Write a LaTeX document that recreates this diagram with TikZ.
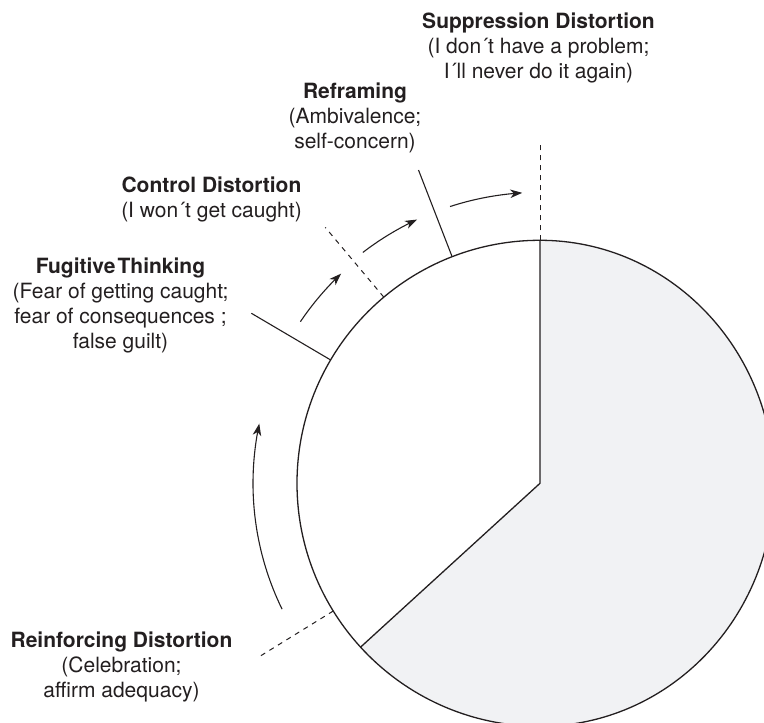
\documentclass[tikz,border=0pt]{standalone}
\usepackage{fontspec}
\setmainfont{TeX Gyre Heros}
\usetikzlibrary{arrows.meta,bending}
\definecolor{ink}{RGB}{35,31,32}
\definecolor{wedgefill}{RGB}{241,242,244}
\begin{document}
\begin{tikzpicture}[x=1pt,y=1pt,
  lbl/.style={align=center, inner sep=0pt, anchor=north, text=ink,
              font=\fontsize{21}{25}\selectfont},
  tick/.style={draw=ink, line width=1.1pt},
  dashtick/.style={draw=ink, line width=1pt, dash pattern=on 5pt off 5pt},
  flow/.style={draw=ink, line width=1.1pt,
               -{Stealth[length=12pt,width=8.5pt,inset=3.5pt]}},
  rim/.style={draw=ink, line width=1.3pt}]
\useasboundingbox (0,0) rectangle (764,723);
\clip (0,0) rectangle (764,723);

% centre of the disc
\coordinate (C) at (540,239.7);

\begin{scope}[shift={(C)}]
  % shaded sector
  \fill[wedgefill] (0,0) -- (90:243)
    arc[start angle=90, end angle=-90, x radius=234, y radius=243]
    arc[start angle=-90, end angle=-137.6, radius=243] -- cycle;
  % outline of the disc
  \draw[rim] (90:243)
    arc[start angle=90, end angle=-90, x radius=234, y radius=243]
    arc[start angle=270, end angle=90, radius=243];
  % sector borders
  \coordinate (top) at (90:243);
  \coordinate (low) at (222.4:243);
  \draw[rim] (top) -- (0,0) -- (low);

  % stage boundaries
  \coordinate (supIn) at (90:243);    \coordinate (supOut) at (90:338);
  \coordinate (refIn) at (111.2:243); \coordinate (refOut) at (111.2:336);
  \coordinate (conIn) at (130:243);   \coordinate (conOut) at (130:334);
  \coordinate (fugIn) at (149.5:243); \coordinate (fugOut) at (149.5:335);
  \coordinate (reiIn) at (211.7:243); \coordinate (reiOut) at (211.7:332);
  \draw[dashtick] (supIn) -- (supOut);
  \draw[tick]     (refIn) -- (refOut);
  \draw[dashtick] (conIn) -- (conOut);
  \draw[tick]     (fugIn) -- (fugOut);
  \draw[dashtick] (reiIn) -- (reiOut);

  % progression arrows
  \draw[flow] (206:287) arc[start angle=206, end angle=168, radius=287];
  \draw[flow] (146:289) arc[start angle=146, end angle=133.5, radius=289];
  \draw[flow] (127.5:291) arc[start angle=127.5, end angle=115, radius=291];
  \draw[flow] (108:291) arc[start angle=108, end angle=93.5, radius=291];
\end{scope}

% stage labels
\node[lbl] (supp) at (538.5,710.3)
  {\textbf{Suppression Distortion}\\(I don´t have a problem;\\I´ll never do it again)};
\node[lbl] (refr) at (355,640.3)
  {\textbf{Reframing}\\(Ambivalence;\\self-concern)};
\node[lbl] (ctrl) at (211.5,546.6)
  {\textbf{Control Distortion}\\(I won´t get caught)};
\node[lbl] (fugi) at (120.5,465)
  {\textbf{Fugitive\hspace{0.1em}Thinking}\\(Fear of getting caught;\\fear of consequences ;\\false guilt)};
\node[lbl] (rein) at (121.5,91.3)
  {\textbf{Reinforcing Distortion}\\(Celebration;\\affirm adequacy)};
\end{tikzpicture}
\end{document}
